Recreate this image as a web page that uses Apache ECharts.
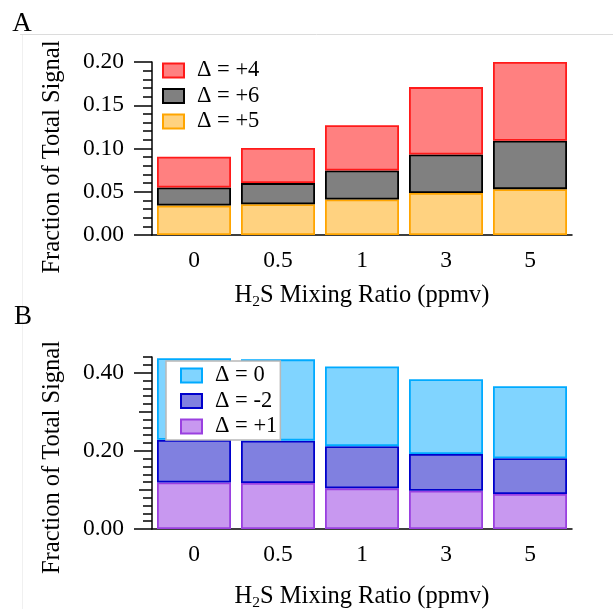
<!DOCTYPE html>
<html><head><meta charset="utf-8">
<script src="https://cdn.jsdelivr.net/npm/echarts@6/dist/echarts.min.js"></script>
<style>html,body{margin:0;padding:0;background:#fff}#c{width:613px;height:609px}</style>
</head><body><div id="c"></div>
<script>
// ---- data ----
var categories = ['0', '0.5', '1', '3', '5'];
// Panel A (stack segments, bottom to top)
var a_plus5 = [0.034, 0.0355, 0.041, 0.0485, 0.053];
var a_plus6 = [0.021, 0.0245, 0.0335, 0.0445, 0.056];
var a_plus4 = [0.0355, 0.0405, 0.0525, 0.078, 0.091];
// Panel B (stack segments, bottom to top)
var b_plus1 = [0.119, 0.1175, 0.104, 0.098, 0.0895];
var b_minus2 = [0.109, 0.1085, 0.108, 0.094, 0.0915];
var b_zero = [0.209, 0.208, 0.204, 0.191, 0.184];
var midTicksB = [0.1, 0.3];
var majorTicksB = [0, 0.2, 0.4];

var FONT = "'Liberation Serif','Times New Roman',serif";
var xName = '{n|H}{s|2}{n|S Mixing Ratio (ppmv)}';
var nameRich = {
  n: {fontFamily: FONT, fontSize: 24.5, color: '#000'},
  s: {fontFamily: FONT, fontSize: 15.5, color: '#000', padding: [13, 0, 0, 0]}
};
function xAx(gi, gap) {
  return {
    type: 'category', gridIndex: gi, data: categories,
    name: xName, nameLocation: 'middle', nameGap: gap,
    nameTextStyle: {rich: nameRich},
    axisLine: {lineStyle: {color: '#000', width: 1.5}},
    axisTick: {length: 18, lineStyle: {color: '#000', width: 1.5}},
    axisLabel: {fontFamily: FONT, fontSize: 23.5, color: '#000', margin: 14}
  };
}
function bar(name, data, xi, yi, fill, border, stack) {
  return {
    type: 'bar', name: name, data: data, xAxisIndex: xi, yAxisIndex: yi,
    stack: stack, barWidth: 74,
    itemStyle: {color: fill, borderColor: border, borderWidth: 1.8},
    emphasis: {disabled: true}
  };
}
function extraAxis(interval, len, custom) {
  var ax = {
    type: 'value', gridIndex: 1, position: 'left', offset: 0, min: 0, max: 0.44, interval: interval,
    axisLine: {show: false}, splitLine: {show: false}, axisLabel: {show: false},
    axisTick: {show: true, length: len, lineStyle: {color: '#000', width: 1.5}}
  };
  if (custom) ax.axisTick.customValues = custom;
  return ax;
}
var legendText = {fontFamily: FONT, fontSize: 22.5, color: '#000', padding: [0, 0, 0, 8]};
var yName = 'Fraction of Total Signal';
var option = {
  animation: false,
  backgroundColor: '#fff',
  grid: [
    {left: 152, top: 62, width: 420, height: 173, outerBoundsMode: 'none'},
    {left: 152, top: 357, width: 420, height: 172, outerBoundsMode: 'none'}
  ],
  xAxis: [xAx(0, 46), xAx(1, 53)],
  yAxis: [
    {
      type: 'value', gridIndex: 0, min: 0, max: 0.2, interval: 0.05,
      name: yName, nameLocation: 'middle', nameGap: 87,
      nameTextStyle: {fontFamily: FONT, fontSize: 24.5, color: '#000', padding: [0, 17, 0, 0]},
      axisLine: {show: true, lineStyle: {color: '#000', width: 1.5}},
      axisTick: {show: true, length: 18, lineStyle: {color: '#000', width: 1.5}},
      minorTick: {show: true, splitNumber: 5, length: 9, lineStyle: {color: '#000', width: 1.5}},
      splitLine: {show: false},
      axisLabel: {fontFamily: FONT, fontSize: 23.5, color: '#000', margin: 28,
        formatter: function (v) { return v.toFixed(2); }}
    },
    {
      type: 'value', gridIndex: 1, position: 'left', min: 0, max: 0.44, interval: 0.2,
      name: yName, nameLocation: 'middle', nameGap: 87,
      nameTextStyle: {fontFamily: FONT, fontSize: 24.5, color: '#000', padding: [0, 29, 0, 0]},
      axisLine: {show: true, lineStyle: {color: '#000', width: 1.5}},
      axisTick: {show: true, length: 18, customValues: majorTicksB, lineStyle: {color: '#000', width: 1.5}},
      splitLine: {show: false},
      axisLabel: {fontFamily: FONT, fontSize: 23.5, color: '#000', margin: 28, customValues: majorTicksB,
        formatter: function (v) { return v.toFixed(2); }}
    },
    extraAxis(0.02, 9, null),
    extraAxis(0.1, 13, midTicksB)
  ],
  legend: [
    {
      data: ['Δ = +4', 'Δ = +6', 'Δ = +5'], left: 162, top: 59, orient: 'vertical',
      padding: 0, itemGap: 2.5, itemWidth: 21, itemHeight: 14, icon: 'rect',
      textStyle: legendText, selectedMode: false
    },
    {
      data: ['Δ = 0', 'Δ = -2', 'Δ = +1'], left: 166, top: 361, orient: 'vertical',
      padding: [3, 3, 2, 14], itemGap: 2.5, itemWidth: 21, itemHeight: 14, icon: 'rect',
      backgroundColor: '#fff', borderColor: '#b8b8b8', borderWidth: 1.5,
      textStyle: legendText, selectedMode: false
    }
  ],
  graphic: [
    {type: 'line', shape: {x1: 20, y1: 34.5, x2: 613, y2: 34.5}, style: {stroke: '#dcdcdc', lineWidth: 1}},
    {type: 'line', shape: {x1: 22.5, y1: 35, x2: 22.5, y2: 609}, style: {stroke: '#f0f0f0', lineWidth: 1}},
    {type: 'text', x: 22, y: 24, style: {text: 'A', font: '27px ' + FONT, fill: '#000', textAlign: 'center', textVerticalAlign: 'middle'}},
    {type: 'text', x: 23, y: 317, style: {text: 'B', font: '27px ' + FONT, fill: '#000', textAlign: 'center', textVerticalAlign: 'middle'}}
  ],
  series: [
    bar('Δ = +5', a_plus5, 0, 0, '#FFD280', '#FFA500', 'a'),
    bar('Δ = +6', a_plus6, 0, 0, '#808080', '#000000', 'a'),
    bar('Δ = +4', a_plus4, 0, 0, '#FF8080', '#FF1A1A', 'a'),
    bar('Δ = +1', b_plus1, 1, 1, '#C898F0', '#9A40E0', 'b'),
    bar('Δ = -2', b_minus2, 1, 1, '#8080E0', '#0000CC', 'b'),
    bar('Δ = 0', b_zero, 1, 1, '#80D4FF', '#00AAFF', 'b')
  ]
};
var chart = echarts.init(document.getElementById('c'), null, {renderer: 'canvas'});
chart.setOption(option);
</script>
</body></html>
